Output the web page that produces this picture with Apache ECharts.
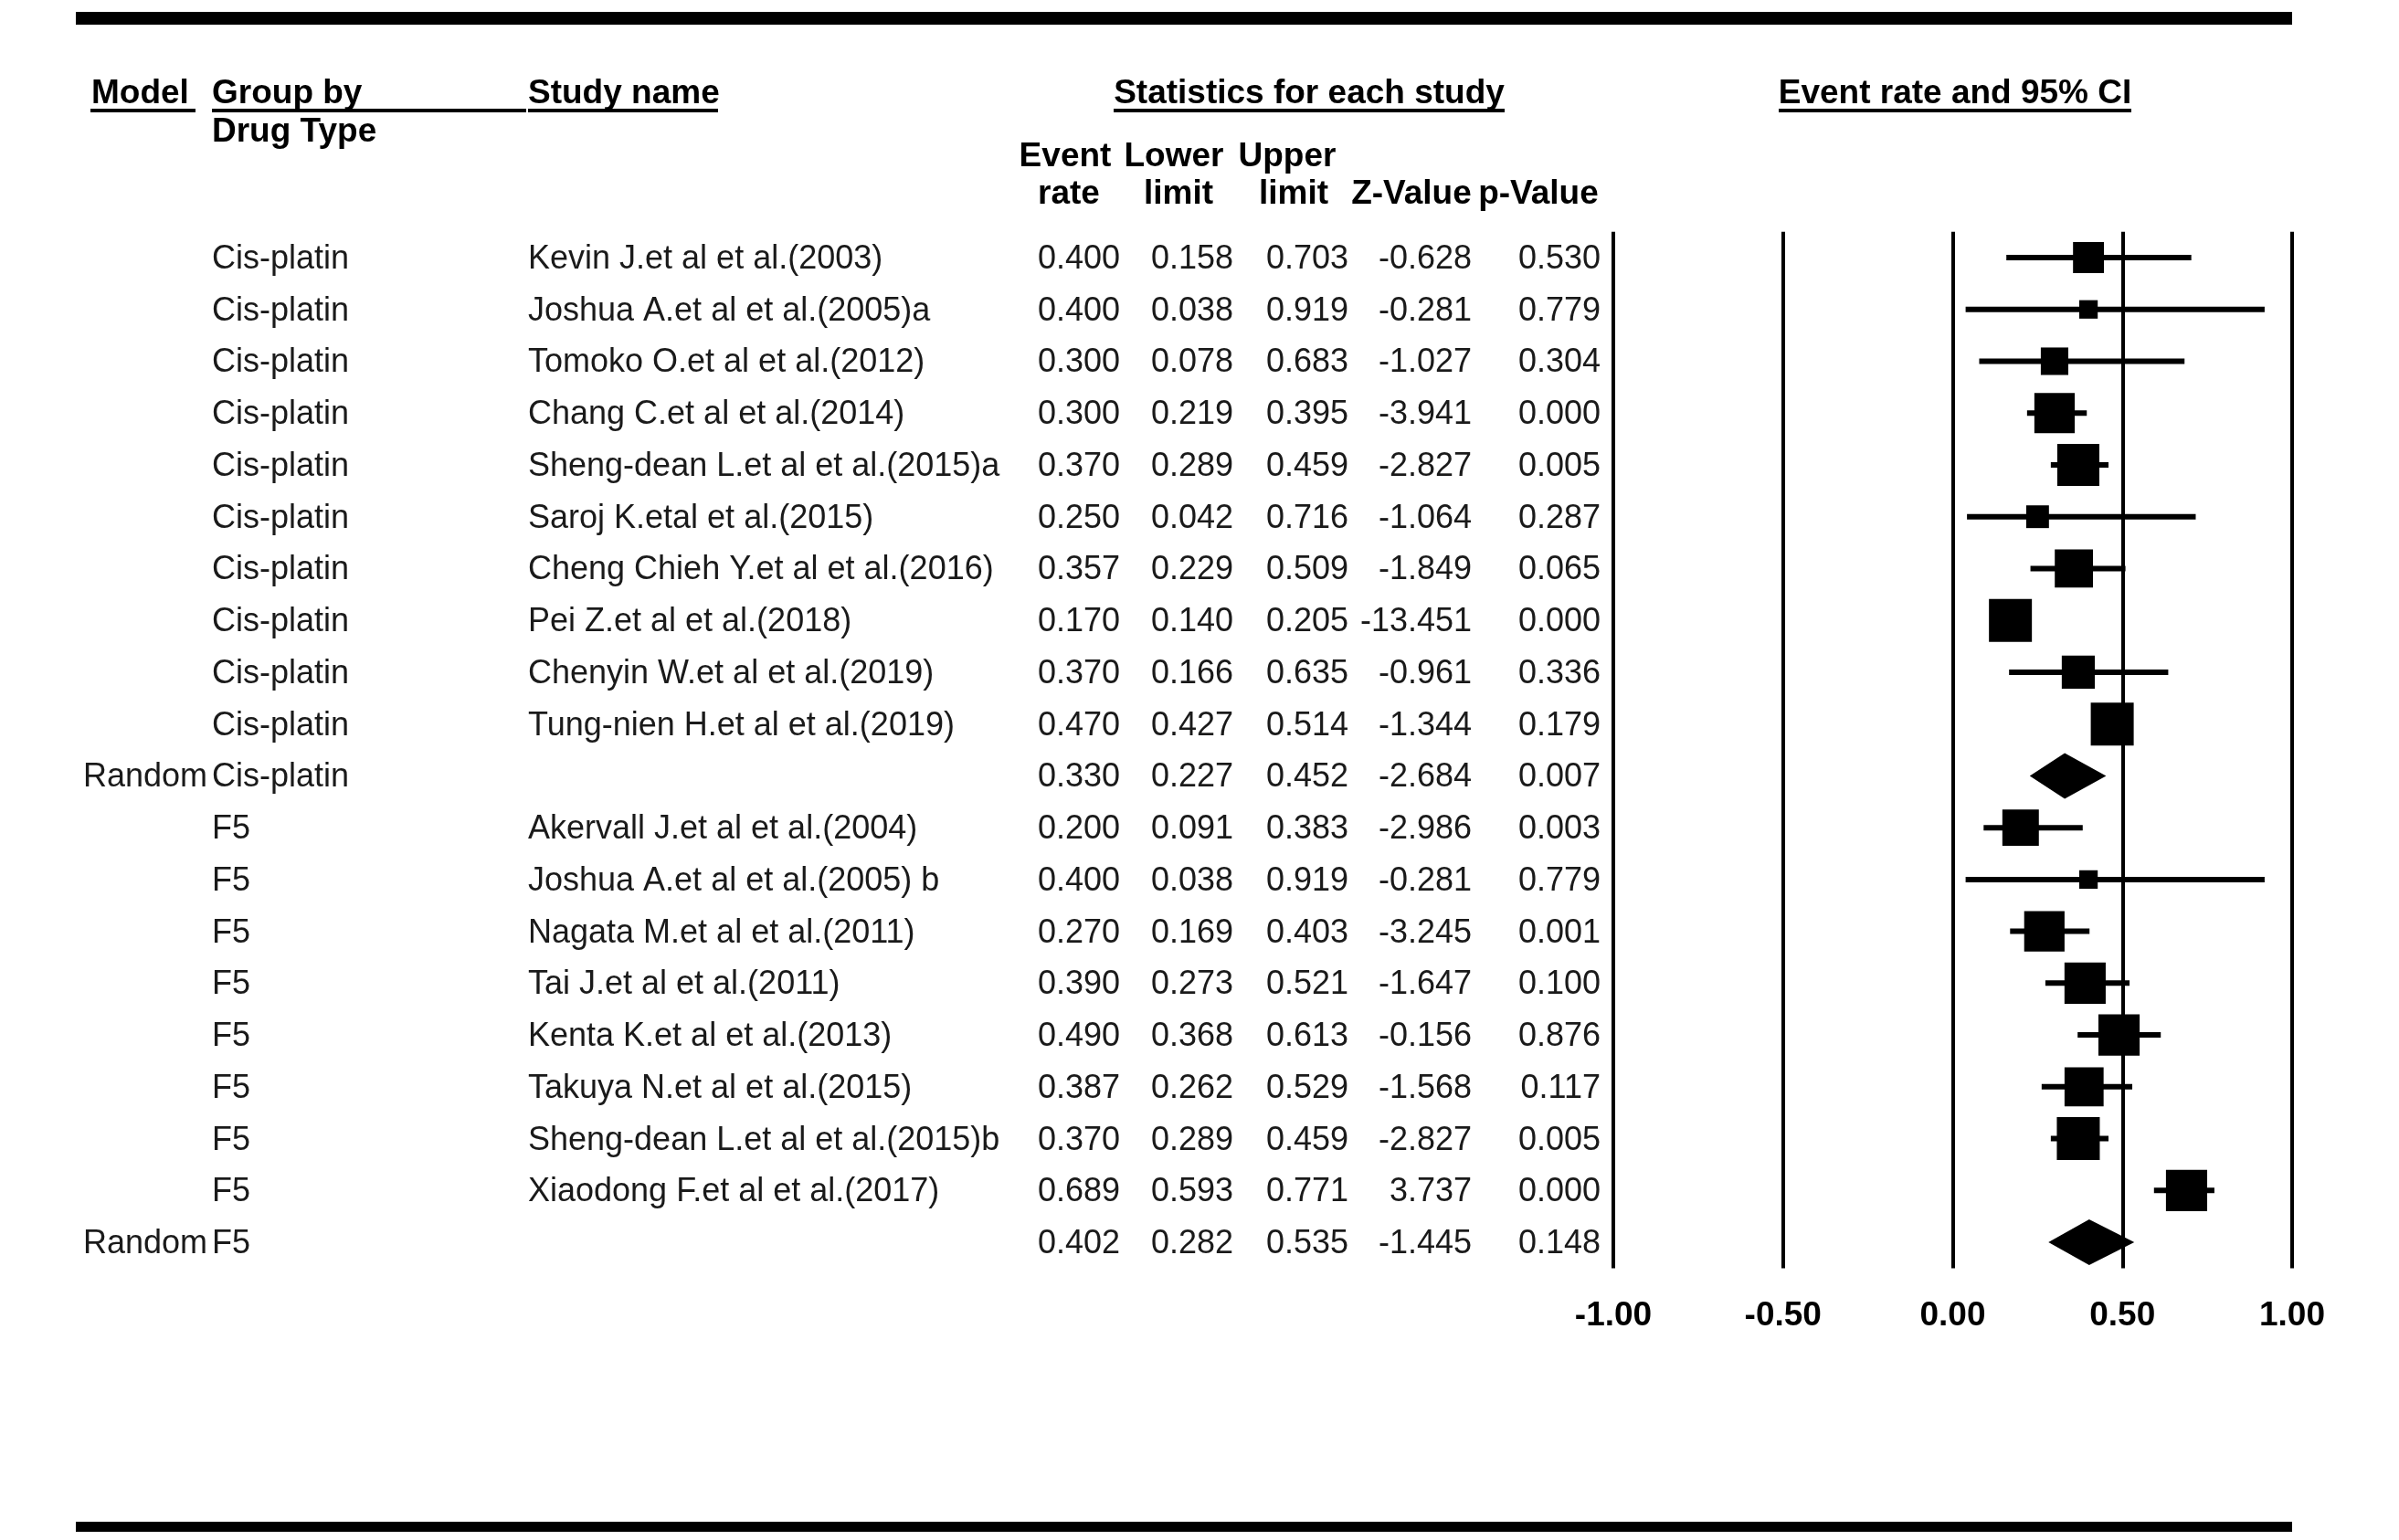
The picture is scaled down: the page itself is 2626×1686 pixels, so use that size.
<!DOCTYPE html>
<html><head><meta charset="utf-8">
<script src="https://cdn.jsdelivr.net/npm/echarts@6/dist/echarts.min.js"></script>
<style>html,body{margin:0;padding:0;background:#fff}#c{width:2626px;height:1686px}</style>
</head><body><div id="c"></div><script>
// ---- data ----
const models = ['', '', '', '', '', '', '', '', '', '', 'Random', '', '', '', '', '', '', '', '', 'Random'];
const groups = ['Cis-platin','Cis-platin','Cis-platin','Cis-platin','Cis-platin','Cis-platin','Cis-platin','Cis-platin','Cis-platin','Cis-platin','Cis-platin',
  'F5','F5','F5','F5','F5','F5','F5','F5','F5'];
const studies = ['Kevin J.et al et al.(2003)','Joshua A.et al et al.(2005)a','Tomoko O.et al et al.(2012)','Chang C.et al et al.(2014)',
  'Sheng-dean L.et al et al.(2015)a','Saroj K.etal et al.(2015)','Cheng Chieh Y.et al et al.(2016)','Pei Z.et al et al.(2018)',
  'Chenyin W.et al et al.(2019)','Tung-nien H.et al et al.(2019)','',
  'Akervall J.et al et al.(2004)','Joshua A.et al et al.(2005) b','Nagata M.et al et al.(2011)','Tai J.et al et al.(2011)',
  'Kenta K.et al et al.(2013)','Takuya N.et al et al.(2015)','Sheng-dean L.et al et al.(2015)b','Xiaodong F.et al et al.(2017)',''];
const eventRate = [0.400,0.400,0.300,0.300,0.370,0.250,0.357,0.170,0.370,0.470,0.330,0.200,0.400,0.270,0.390,0.490,0.387,0.370,0.689,0.402];
const lowerLimit = [0.158,0.038,0.078,0.219,0.289,0.042,0.229,0.140,0.166,0.427,0.227,0.091,0.038,0.169,0.273,0.368,0.262,0.289,0.593,0.282];
const upperLimit = [0.703,0.919,0.683,0.395,0.459,0.716,0.509,0.205,0.635,0.514,0.452,0.383,0.919,0.403,0.521,0.613,0.529,0.459,0.771,0.535];
const zValue = [-0.628,-0.281,-1.027,-3.941,-2.827,-1.064,-1.849,-13.451,-0.961,-1.344,-2.684,-2.986,-0.281,-3.245,-1.647,-0.156,-1.568,-2.827,3.737,-1.445];
const pValue = [0.530,0.779,0.304,0.000,0.005,0.287,0.065,0.000,0.336,0.179,0.007,0.003,0.779,0.001,0.100,0.876,0.117,0.005,0.000,0.148];
// relative study weight (box size relative to the largest box), summary rows 0
const weights = [0.72,0.43,0.64,0.94,0.98,0.53,0.89,1.00,0.77,1.00,0,0.85,0.43,0.94,0.96,0.96,0.91,1.00,0.96,0];
const xTicks = [-1, -0.5, 0, 0.5, 1];

// ---- layout / style ----
const FONT = '"Liberation Sans", Arial, sans-serif';
const HFONT = 'bold 37px ' + FONT;
const DFONT = '36px ' + FONT;
const INK = '#000';
const TXT = '#1a1a1a';
const MAXBOX = 47;
const DIAMOND_H = 50;
const COL = {model: 91, group: 232, study: 578, er: 1226, ll: 1350, ul: 1476, z: 1611, p: 1752};
const ROW_H = 56.74;
const GRID_TOP = 282 - ROW_H / 2;
const TEXT_DY = 2;

const rowIds = eventRate.map((_, i) => String(i));
const fmt = v => v.toFixed(3);

const chart = echarts.init(document.getElementById('c'), null, {renderer: 'canvas'});

function headerText(text, x, y, align) {
  return {type: 'text', silent: true, style: {text, x, y, font: HFONT, fill: INK, align: align || 'left', verticalAlign: 'middle'}};
}
function rule(x1, x2, y, h) {
  return {type: 'rect', silent: true, shape: {x: x1, y: y, width: x2 - x1, height: h}, style: {fill: INK}};
}

const option = {
  backgroundColor: '#fff',
  animation: false,
  grid: {left: 1766, width: 743, top: GRID_TOP, height: ROW_H * eventRate.length, containLabel: false},
  xAxis: {
    type: 'value', min: -1, max: 1, interval: 0.5,
    axisLine: {show: false}, axisTick: {show: false},
    splitLine: {show: true, lineStyle: {color: INK, width: 4}},
    axisLabel: {show: true, margin: 34, fontSize: 37, fontWeight: 'bold', fontFamily: FONT, color: INK,
      formatter: v => v.toFixed(2)}
  },
  yAxis: {
    type: 'category', data: rowIds, inverse: true,
    axisLine: {show: false}, axisTick: {show: false}, axisLabel: {show: false}, splitLine: {show: false}
  },
  graphic: [
    rule(83, 2509, 13, 14),
    rule(83, 2509, 1666, 11),
    headerText('Model', 100, 103),
    headerText('Group by', 232, 103),
    headerText('Drug Type', 232, 145),
    headerText('Study name', 578, 103),
    headerText('Statistics for each study', 1433, 103, 'center'),
    headerText('Event rate and 95% CI', 2140, 103, 'center'),
    headerText('Event', 1166, 172, 'center'),
    headerText('Lower', 1285, 172, 'center'),
    headerText('Upper', 1409, 172, 'center'),
    headerText('rate', 1170, 213, 'center'),
    headerText('limit', 1290, 213, 'center'),
    headerText('limit', 1416, 213, 'center'),
    headerText('Z-Value', 1545, 213, 'center'),
    headerText('p-Value', 1684, 213, 'center'),
    rule(99, 214, 119, 4),
    rule(232, 576, 119, 4),
    rule(578, 786, 119, 4),
    rule(1219, 1647, 119, 4),
    rule(1947, 2333, 119, 4)
  ],
  series: [
    {
      name: 'table', type: 'custom', clip: false, silent: true,
      data: rowIds.map((_, i) => [0, i]),
      encode: {x: 0, y: 1},
      renderItem: function (params, api) {
        const i = api.value(1);
        const y = api.coord([0, i])[1] + TEXT_DY;
        const t = (text, x, align) => ({type: 'text', style: {text, x, y, font: DFONT, fill: TXT, align, verticalAlign: 'middle'}});
        return {type: 'group', children: [
          t(models[i], COL.model, 'left'),
          t(groups[i], COL.group, 'left'),
          t(studies[i], COL.study, 'left'),
          t(fmt(eventRate[i]), COL.er, 'right'),
          t(fmt(lowerLimit[i]), COL.ll, 'right'),
          t(fmt(upperLimit[i]), COL.ul, 'right'),
          t(fmt(zValue[i]), COL.z, 'right'),
          t(fmt(pValue[i]), COL.p, 'right')
        ]};
      }
    },
    {
      name: 'forest', type: 'custom', clip: false, silent: true,
      data: eventRate.map((v, i) => [v, i, lowerLimit[i], upperLimit[i], weights[i]]),
      encode: {x: 0, y: 1},
      renderItem: function (params, api) {
        const i = api.value(1);
        const pe = api.coord([api.value(0), i]);
        const xl = api.coord([api.value(2), i])[0];
        const xu = api.coord([api.value(3), i])[0];
        const y = pe[1];
        if (models[i] === 'Random') {
          const h = DIAMOND_H / 2;
          return {type: 'polygon', shape: {points: [[xl, y], [pe[0], y - h], [xu, y], [pe[0], y + h]]}, style: {fill: INK}};
        }
        const s = api.value(4) * MAXBOX;
        return {type: 'group', children: [
          {type: 'line', shape: {x1: xl, y1: y, x2: xu, y2: y}, style: {stroke: INK, lineWidth: 6}},
          {type: 'rect', shape: {x: pe[0] - s / 2, y: y - s / 2, width: s, height: s}, style: {fill: INK}}
        ]};
      }
    }
  ]
};
chart.setOption(option);
</script></body></html>
